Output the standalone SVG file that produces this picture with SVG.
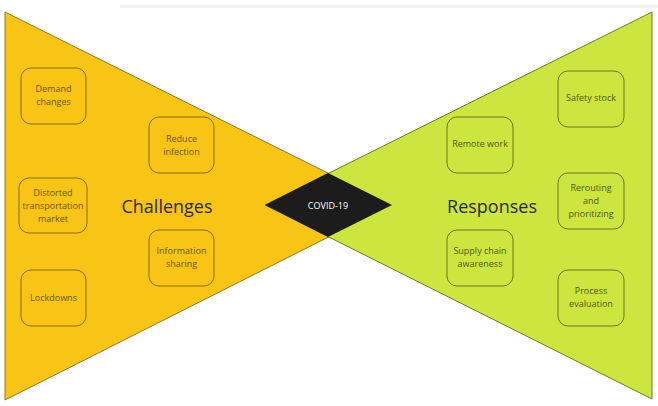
<svg xmlns="http://www.w3.org/2000/svg" width="658" height="406" viewBox="0 0 658 406">
<style>
.box{stroke-width:1;rx:10;ry:10}
.yb{fill:#F8C416;stroke:#8a6d12}
.gb{fill:#CDE53F;stroke:#6b7a1f}
.t{font-family:"Open Sans","Noto Sans",sans-serif;font-size:9px;text-anchor:middle}
.yt{fill:#6e5510}
.gt{fill:#4d5a12}
.big{font-family:"Open Sans","Noto Sans",sans-serif;font-size:18px;text-anchor:middle;fill:#2a2a1a}
</style>
<rect x="0" y="0" width="658" height="406" fill="#ffffff"/>
<rect x="120" y="5" width="538" height="3" fill="#f2f2f2"/>
<g id="challenges">
<polygon points="5,12 5,400 392,205" fill="#F8C416" stroke="#8a7a2a" stroke-width="1"/>
<text class="big" x="167" y="213">Challenges</text>
</g>
<g id="responses">
<polygon points="652,12 652,399 265,205" fill="#CDE53F" stroke="#6e7a2a" stroke-width="1"/>
<text class="big" x="492" y="213">Responses</text>
</g>
<g id="covid">
<polygon points="265,205 328,173 392,205 328,237" fill="#1c1c1c"/>
<text class="t" x="328" y="209" fill="#ffffff">COVID-19</text>
</g>
<g id="demand">
<rect class="box yb" x="21" y="68" width="65" height="56"/>
<text class="t yt" x="53.5" y="92">Demand</text>
<text class="t yt" x="53.5" y="105">changes</text>
</g>
<g id="distorted">
<rect class="box yb" x="19" y="178" width="68" height="55"/>
<text class="t yt" x="53" y="196">Distorted</text>
<text class="t yt" x="53" y="209">transportation</text>
<text class="t yt" x="53" y="222">market</text>
</g>
<g id="lockdowns">
<rect class="box yb" x="21" y="270" width="65" height="56"/>
<text class="t yt" x="53.5" y="301">Lockdowns</text>
</g>
<g id="reduce">
<rect class="box yb" x="149" y="117" width="65" height="56"/>
<text class="t yt" x="181.5" y="142">Reduce</text>
<text class="t yt" x="181.5" y="155">infection</text>
</g>
<g id="information">
<rect class="box yb" x="149" y="230" width="65" height="56"/>
<text class="t yt" x="181.5" y="254">Information</text>
<text class="t yt" x="181.5" y="267">sharing</text>
</g>
<g id="safety">
<rect class="box gb" x="558" y="71" width="66" height="56"/>
<text class="t gt" x="591" y="101">Safety stock</text>
</g>
<g id="remote">
<rect class="box gb" x="447" y="117" width="66" height="56"/>
<text class="t gt" x="480" y="147">Remote work</text>
</g>
<g id="rerouting">
<rect class="box gb" x="558" y="173" width="66" height="56"/>
<text class="t gt" x="591" y="191">Rerouting</text>
<text class="t gt" x="591" y="204">and</text>
<text class="t gt" x="591" y="217">prioritizing</text>
</g>
<g id="supply">
<rect class="box gb" x="447" y="230" width="66" height="56"/>
<text class="t gt" x="480" y="254">Supply chain</text>
<text class="t gt" x="480" y="267">awareness</text>
</g>
<g id="process">
<rect class="box gb" x="558" y="270" width="66" height="56"/>
<text class="t gt" x="591" y="294">Process</text>
<text class="t gt" x="591" y="307">evaluation</text>
</g>
<g id="connectors"></g>
</svg>
